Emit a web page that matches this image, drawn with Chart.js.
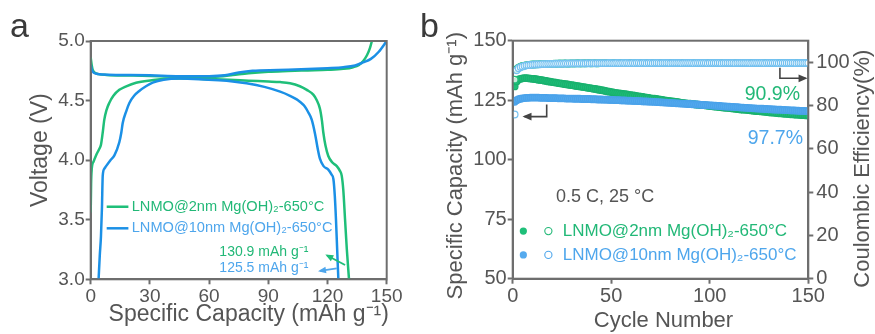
<!DOCTYPE html>
<html><head><meta charset="utf-8">
<script src="https://cdn.jsdelivr.net/npm/chart.js@4.4.0/dist/chart.umd.min.js"></script>
<style>
html,body{margin:0;padding:0;background:#fff;}
#wrap{position:relative;width:875px;height:334px;overflow:hidden;background:#fff;}
#ca{position:absolute;left:0;top:0;}
#cb{position:absolute;left:440px;top:0;}
.lbl{position:absolute;font-family:"Liberation Sans",Arial,sans-serif;font-size:34px;color:#3a3a3a;line-height:1;}
</style></head><body>
<div id="wrap">
<canvas id="ca" width="440" height="334"></canvas>
<canvas id="cb" width="435" height="334"></canvas>
<div class="lbl" style="left:10px;top:8px;">a</div>
<div class="lbl" style="left:420px;top:8px;">b</div>
</div>
<script>
// ---------- Panel a: voltage profiles ----------
const seriesLabels = ["LNMO@2nm Mg(OH)\u2082-650\u00B0C", "LNMO@10nm Mg(OH)\u2082-650\u00B0C"];
const capTicksA = [0, 30, 60, 90, 120, 150];
const voltTicks = [3.0, 3.5, 4.0, 4.5, 5.0];

const chg2nmCap = [0, 0.5, 1, 2, 4, 8, 20, 40, 55, 65, 72, 80, 90, 100, 110, 120, 128, 133, 136, 138, 140, 141.5, 142.5];
const chg2nmV   = [4.86, 4.80, 4.76, 4.735, 4.722, 4.715, 4.71, 4.703, 4.70, 4.703, 4.715, 4.73, 4.742, 4.748, 4.753, 4.758, 4.766, 4.78, 4.80, 4.83, 4.88, 4.94, 5.0];
const chg10nmCap = [0, 0.5, 1.5, 3, 6, 15, 30, 45, 60, 68, 75, 82, 95, 110, 120, 128, 134, 138, 142, 146, 150];
const chg10nmV   = [4.80, 4.76, 4.735, 4.725, 4.718, 4.715, 4.712, 4.705, 4.705, 4.712, 4.735, 4.75, 4.757, 4.765, 4.772, 4.78, 4.795, 4.82, 4.85, 4.91, 5.0];
const dis2nmCap = [0, 0.2, 0.5, 1.5, 2.7, 4.2, 5.2, 6, 6.9, 8, 9.4, 11.5, 14.5, 18, 23, 31, 40, 50, 60, 70, 80, 90, 96, 101, 106, 109.5, 112.8, 114.5, 116.2, 117.2, 117.9, 119, 120.4, 122.5, 124.7, 126.3, 127.2, 128, 128.9, 129.8, 130.9];
const dis2nmV   = [3.56, 3.8, 3.92, 3.99, 4.04, 4.09, 4.13, 4.22, 4.34, 4.42, 4.48, 4.54, 4.59, 4.62, 4.65, 4.67, 4.685, 4.685, 4.68, 4.675, 4.667, 4.66, 4.655, 4.645, 4.62, 4.59, 4.55, 4.505, 4.43, 4.33, 4.23, 4.12, 4.035, 3.98, 3.95, 3.91, 3.87, 3.75, 3.50, 3.25, 3.0];
const dis10nmCap = [4.0, 4.6, 5.2, 5.7, 6.1, 7, 7.8, 10, 12, 14.5, 15.5, 16.2, 18, 19.6, 22, 24.6, 28, 31.4, 37, 45, 55, 65, 72, 79, 88, 96, 101, 104.4, 106, 108.5, 110.3, 112, 113.7, 115, 116.2, 118, 120.4, 122, 123, 123.7, 124.3, 124.9, 125.5];
const dis10nmV   = [3.0, 3.2, 3.36, 3.6, 3.87, 3.93, 3.95, 4.0, 4.04, 4.15, 4.23, 4.31, 4.41, 4.48, 4.54, 4.58, 4.62, 4.65, 4.675, 4.685, 4.68, 4.67, 4.66, 4.645, 4.615, 4.575, 4.54, 4.51, 4.49, 4.45, 4.40, 4.34, 4.22, 4.10, 4.01, 3.95, 3.92, 3.88, 3.84, 3.70, 3.50, 3.25, 3.0];
const capNotes = ["130.9 mAh g\u207B\u00B9", "125.5 mAh g\u207B\u00B9"];

// ---------- Panel b: cycling ----------
const cycleTicks = [0, 50, 100, 150];
const capTicksB = [50, 75, 100, 125, 150];
const ceTicks = [0, 20, 40, 60, 80, 100];
const cap2nm = [130.8,132.9,133.7,134.0,134.2,134.3,134.3,134.2,134.1,134.0,
133.9,133.8,133.6,133.5,133.4,133.2,133.1,132.9,132.8,132.6,
132.5,132.4,132.2,132.1,132.0,131.8,131.7,131.6,131.4,131.3,
131.2,131.0,130.9,130.8,130.6,130.5,130.4,130.2,130.1,130.0,
129.8,129.7,129.5,129.4,129.2,129.1,128.9,128.7,128.6,128.4,
128.3,128.1,128.0,127.9,127.7,127.6,127.5,127.4,127.2,127.1,
127.0,126.9,126.7,126.6,126.5,126.4,126.2,126.1,126.0,125.8,
125.7,125.6,125.5,125.3,125.2,125.1,124.9,124.8,124.7,124.6,
124.5,124.4,124.3,124.2,124.0,123.9,123.8,123.7,123.6,123.5,
123.4,123.3,123.2,123.1,123.0,122.9,122.9,122.8,122.7,122.6,
122.5,122.4,122.3,122.2,122.1,122.0,121.9,121.8,121.8,121.7,
121.6,121.5,121.4,121.3,121.2,121.1,121.0,121.0,120.9,120.8,
120.7,120.6,120.5,120.4,120.4,120.3,120.2,120.1,120.0,119.9,
119.8,119.8,119.7,119.6,119.5,119.5,119.4,119.3,119.3,119.2,
119.1,119.1,119.0,118.9,118.9,118.8,118.7,118.7,118.6,118.6];
const cap10nm = [124.3,125.0,125.4,125.6,125.8,125.9,126.0,126.0,126.1,126.1,
126.1,126.1,126.1,126.0,126.0,126.0,126.0,125.9,125.9,125.9,
125.9,125.9,125.8,125.8,125.8,125.8,125.7,125.7,125.7,125.7,
125.6,125.6,125.6,125.6,125.5,125.5,125.5,125.5,125.5,125.4,
125.4,125.4,125.3,125.3,125.3,125.2,125.2,125.2,125.1,125.1,
125.1,125.0,125.0,125.0,124.9,124.9,124.9,124.8,124.8,124.8,
124.7,124.7,124.7,124.6,124.6,124.5,124.5,124.5,124.4,124.4,
124.3,124.3,124.2,124.2,124.1,124.1,124.0,124.0,123.9,123.9,
123.8,123.8,123.7,123.7,123.6,123.6,123.5,123.5,123.4,123.4,
123.3,123.3,123.2,123.2,123.1,123.0,123.0,122.9,122.9,122.8,
122.8,122.7,122.7,122.6,122.6,122.5,122.4,122.4,122.3,122.3,
122.2,122.2,122.1,122.1,122.0,121.9,121.9,121.8,121.8,121.7,
121.7,121.6,121.6,121.5,121.5,121.4,121.4,121.3,121.3,121.2,
121.2,121.1,121.1,121.0,121.0,121.0,120.9,120.9,120.8,120.8,
120.7,120.7,120.7,120.6,120.6,120.5,120.5,120.5,120.4,120.4];
const ce2nm = [92.0,96.9,97.6,98.0,98.3,98.5,98.7,98.8,98.9,99.0,
99.0,99.1,99.1,99.2,99.2,99.2,99.3,99.3,99.3,99.3,
99.4,99.4,99.4,99.5,99.4,99.5,99.5,99.4,99.5,99.5,
99.5,99.5,99.6,99.5,99.5,99.6,99.5,99.6,99.6,99.5,
99.6,99.6,99.5,99.6,99.6,99.6,99.7,99.6,99.6,99.6,
99.6,99.7,99.6,99.6,99.7,99.6,99.6,99.7,99.6,99.7,
99.7,99.6,99.7,99.6,99.7,99.7,99.6,99.7,99.7,99.6,
99.7,99.7,99.7,99.6,99.7,99.7,99.7,99.6,99.7,99.7,
99.7,99.7,99.6,99.7,99.7,99.7,99.7,99.6,99.7,99.7,
99.7,99.7,99.7,99.7,99.6,99.7,99.7,99.7,99.7,99.7,
99.7,99.6,99.7,99.7,99.7,99.7,99.7,99.6,99.7,99.7,
99.7,99.7,99.7,99.7,99.6,99.7,99.7,99.7,99.7,99.7,
99.7,99.7,99.6,99.7,99.7,99.7,99.7,99.7,99.7,99.6,
99.7,99.7,99.7,99.7,99.7,99.7,99.6,99.7,99.7,99.7,
99.7,99.7,99.7,99.7,99.7,99.6,99.7,99.7,99.7,99.7];
const ce10nm = [75.9,96.3,97.3,97.8,98.1,98.4,98.6,98.7,98.8,98.9,
99.0,99.0,99.1,99.1,99.2,99.2,99.2,99.3,99.3,99.3,
99.3,99.4,99.4,99.4,99.4,99.4,99.5,99.4,99.5,99.5,
99.5,99.5,99.5,99.5,99.6,99.5,99.5,99.6,99.5,99.6,
99.6,99.5,99.6,99.6,99.6,99.6,99.6,99.6,99.7,99.6,
99.6,99.6,99.7,99.6,99.6,99.7,99.6,99.7,99.6,99.6,
99.7,99.6,99.7,99.7,99.6,99.7,99.7,99.6,99.7,99.7,
99.6,99.7,99.7,99.7,99.6,99.7,99.7,99.7,99.7,99.6,
99.7,99.7,99.7,99.7,99.7,99.6,99.7,99.7,99.7,99.7,
99.7,99.6,99.7,99.7,99.7,99.7,99.7,99.7,99.6,99.7,
99.7,99.7,99.7,99.7,99.7,99.6,99.7,99.7,99.7,99.7,
99.7,99.7,99.6,99.7,99.7,99.7,99.7,99.7,99.7,99.7,
99.6,99.7,99.7,99.7,99.7,99.7,99.7,99.6,99.7,99.7,
99.7,99.7,99.7,99.7,99.6,99.7,99.7,99.7,99.7,99.7,
99.7,99.7,99.7,99.6,99.7,99.7,99.7,99.7,99.7,99.7];
const cycles = cap2nm.map((_, i) => i + 1);
const retentionNotes = ["90.9%", "97.7%"];
const conditionNote = "0.5 C, 25 \u00B0C";

// ---------- styles ----------
const FONT = '"Liberation Sans", Arial, Helvetica, sans-serif';
const AXIS = '#6e6e6e';
const TXT = '#555555';
const GREEN_A = '#1fbf79';
const BLUE_A = '#1b90e6';
const GREEN_B = '#1fbf79';
const BLUE_B = '#55aaee';
const CE_BLUE = '#74c1f0';
const GREEN_TXT = '#22b877';
const BLUE_TXT = '#4ea6ec';

function pts(xs, ys) { return xs.map((x, i) => ({x: x, y: ys[i]})); }
function text(ctx, s, x, y, size, color, align, base, rot) {
  ctx.save();
  ctx.font = size + 'px ' + FONT;
  ctx.fillStyle = color;
  ctx.textAlign = align || 'left';
  ctx.textBaseline = base || 'middle';
  ctx.translate(x, y);
  if (rot) ctx.rotate(rot);
  ctx.fillText(s, 0, 0);
  ctx.restore();
}
function arrowLine(ctx, path, color, w, head) {
  ctx.save();
  ctx.strokeStyle = color; ctx.fillStyle = color; ctx.lineWidth = w;
  ctx.beginPath();
  ctx.moveTo(path[0][0], path[0][1]);
  for (let i = 1; i < path.length; i++) ctx.lineTo(path[i][0], path[i][1]);
  ctx.stroke();
  const p1 = path[path.length - 2], p2 = path[path.length - 1];
  const a = Math.atan2(p2[1] - p1[1], p2[0] - p1[0]);
  ctx.beginPath();
  ctx.moveTo(p2[0] + Math.cos(a) * 2, p2[1] + Math.sin(a) * 2);
  ctx.lineTo(p2[0] - Math.cos(a) * head + Math.cos(a + Math.PI / 2) * head * 0.55, p2[1] - Math.sin(a) * head + Math.sin(a + Math.PI / 2) * head * 0.55);
  ctx.lineTo(p2[0] - Math.cos(a) * head - Math.cos(a + Math.PI / 2) * head * 0.55, p2[1] - Math.sin(a) * head - Math.sin(a + Math.PI / 2) * head * 0.55);
  ctx.closePath(); ctx.fill();
  ctx.restore();
}
function frame(chart) {
  const {ctx, chartArea: c} = chart;
  ctx.save(); ctx.strokeStyle = AXIS; ctx.lineWidth = 2;
  ctx.strokeRect(c.left, c.top, c.right - c.left, c.bottom - c.top);
  ctx.restore();
}
function axisOpts(min, max, step, size, tickPad, fit, dim, cb) {
  return {
    type: 'linear', min: min, max: max,
    ticks: {stepSize: step, includeBounds: false, color: TXT, font: {family: FONT, size: size}, padding: tickPad, callback: cb || (v => v), maxRotation: 0, autoSkip: false},
    grid: {display: true, drawOnChartArea: false, drawTicks: true, tickLength: 5, tickWidth: 2, color: AXIS},
    border: {display: true, color: AXIS, width: 2},
    afterFit: s => { s[dim] = fit; }
  };
}

// ---------- Chart a ----------
const plugA = {
  id: 'plugA',
  afterDraw(chart) {
    const {ctx, chartArea: c, scales: {x, y}} = chart;
    frame(chart);
    text(ctx, 'Specific Capacity (mAh g\u207B\u00B9)', (c.left + c.right) / 2 + 10, 315, 23, TXT, 'center');
    text(ctx, 'Voltage (V)', 41, (c.top + c.bottom) / 2 - 10, 23, TXT, 'center', 'middle', -Math.PI / 2);
    const cols = [GREEN_A, BLUE_A], tcols = [GREEN_TXT, BLUE_TXT], ly = [3.609, 3.428];
    for (let i = 0; i < 2; i++) {
      const yy = y.getPixelForValue(ly[i]);
      ctx.save(); ctx.strokeStyle = cols[i]; ctx.lineWidth = 2.5;
      ctx.beginPath(); ctx.moveTo(x.getPixelForValue(8.1), yy); ctx.lineTo(x.getPixelForValue(19.1), yy); ctx.stroke(); ctx.restore();
      text(ctx, seriesLabels[i], x.getPixelForValue(20.8), yy, 14.6, tcols[i]);
    }
    text(ctx, capNotes[0], x.getPixelForValue(65.2), y.getPixelForValue(3.225), 14, GREEN_TXT);
    text(ctx, capNotes[1], x.getPixelForValue(65.2), y.getPixelForValue(3.09), 14, BLUE_TXT);
    arrowLine(ctx, [[x.getPixelForValue(128.9), y.getPixelForValue(3.12)], [x.getPixelForValue(119.8), y.getPixelForValue(3.2)]], GREEN_A, 1.8, 6);
    arrowLine(ctx, [[x.getPixelForValue(124.7), y.getPixelForValue(3.092)], [x.getPixelForValue(116.2), y.getPixelForValue(3.07)]], BLUE_TXT, 1.8, 6);
  }
};
new Chart(document.getElementById('ca'), {
  type: 'scatter',
  data: {datasets: [
    {data: pts(chg10nmCap, chg10nmV), borderColor: BLUE_A},
    {data: pts(dis10nmCap, dis10nmV), borderColor: BLUE_A},
    {data: pts(chg2nmCap, chg2nmV), borderColor: GREEN_A},
    {data: pts(dis2nmCap, dis2nmV), borderColor: GREEN_A}
  ].map(d => Object.assign(d, {showLine: true, pointRadius: 0, borderWidth: 2.5, cubicInterpolationMode: 'monotone', fill: false}))},
  options: {
    responsive: false, animation: false, devicePixelRatio: 1,
    layout: {padding: {left: 0, right: 53.3, top: 41, bottom: 0}},
    plugins: {legend: {display: false}, tooltip: {enabled: false}},
    scales: {
      x: axisOpts(capTicksA[0], capTicksA[capTicksA.length - 1], 30, 19, 1, 54.7, 'height'),
      y: axisOpts(voltTicks[0], voltTicks[voltTicks.length - 1], 0.5, 19, 1, 90.7, 'width', v => v.toFixed(1))
    }
  },
  plugins: [plugA]
});

// ---------- Chart b ----------
const plugB = {
  id: 'plugB',
  afterDraw(chart) {
    const {ctx, chartArea: c, scales: {x, y}} = chart;
    frame(chart);
    text(ctx, 'Cycle Number', (c.left + c.right) / 2 + 3, 321, 22, TXT, 'center');
    text(ctx, 'Specific Capacity (mAh g\u207B\u00B9)', 16, (c.top + c.bottom) / 2 + 6, 22, TXT, 'center', 'middle', -Math.PI / 2);
    text(ctx, 'Coulombic Efficiency(%)', 423, (c.top + c.bottom) / 2 + 9, 22, TXT, 'center', 'middle', -Math.PI / 2);
    text(ctx, conditionNote, x.getPixelForValue(22), y.getPixelForValue(84.5), 18, TXT);
    const fills = [GREEN_B, BLUE_B], tcols = [GREEN_TXT, BLUE_TXT], ly = [70, 60];
    for (let i = 0; i < 2; i++) {
      const yy = y.getPixelForValue(ly[i]);
      ctx.save();
      ctx.fillStyle = fills[i];
      ctx.beginPath(); ctx.arc(x.getPixelForValue(5.4), yy, 3.6, 0, Math.PI * 2); ctx.fill();
      ctx.strokeStyle = tcols[i]; ctx.lineWidth = 1.1;
      ctx.beginPath(); ctx.arc(x.getPixelForValue(18.1), yy, 3.6, 0, Math.PI * 2); ctx.stroke();
      ctx.restore();
      text(ctx, seriesLabels[i], x.getPixelForValue(25.4), yy, 17, tcols[i]);
    }
    text(ctx, retentionNotes[0], x.getPixelForValue(145.8), y.getPixelForValue(127.2), 19.5, GREEN_TXT, 'right');
    text(ctx, retentionNotes[1], x.getPixelForValue(147.3), y.getPixelForValue(109.0), 19.5, BLUE_TXT, 'right');
    arrowLine(ctx, [[x.getPixelForValue(17.25), y.getPixelForValue(123.2)], [x.getPixelForValue(17.25), y.getPixelForValue(118.1)], [x.getPixelForValue(6.0), y.getPixelForValue(118.1)]], '#444', 1.6, 7);
    arrowLine(ctx, [[x.getPixelForValue(135.6), y.getPixelForValue(138.6)], [x.getPixelForValue(135.6), y.getPixelForValue(134.2)], [x.getPixelForValue(148.6), y.getPixelForValue(134.2)]], '#444', 1.6, 7);
  }
};
new Chart(document.getElementById('cb'), {
  type: 'scatter',
  data: {datasets: [
    {data: pts(cycles, ce10nm), yAxisID: 'y2', pointBackgroundColor: 'rgba(255,255,255,0.75)', pointBorderColor: CE_BLUE},
    {data: pts(cycles, ce2nm), yAxisID: 'y2', pointBackgroundColor: 'rgba(255,255,255,0.75)', pointBorderColor: GREEN_B},
    {data: pts(cycles, cap10nm), yAxisID: 'y', pointBackgroundColor: BLUE_B, pointBorderColor: '#4aa2ea'},
    {data: pts(cycles, cap2nm), yAxisID: 'y', pointBackgroundColor: GREEN_B, pointBorderColor: '#19b16e'}
  ].map(d => Object.assign(d, {showLine: false, pointRadius: 3.3, pointBorderWidth: 1.2}))},
  options: {
    responsive: false, animation: false, devicePixelRatio: 1,
    layout: {padding: {left: 0, right: 0, top: 40.7, bottom: 0}},
    plugins: {legend: {display: false}, tooltip: {enabled: false}},
    scales: {
      x: axisOpts(cycleTicks[0], cycleTicks[cycleTicks.length - 1], 50, 20, 1, 55.3, 'height'),
      y: axisOpts(capTicksB[0], capTicksB[capTicksB.length - 1], 25, 20, 1, 72.7, 'width'),
      y2: Object.assign(axisOpts(ceTicks[0], 110, 20, 20, 3, 66.7, 'width'), {position: 'right'})
    }
  },
  plugins: [plugB]
});
</script>
</body></html>
